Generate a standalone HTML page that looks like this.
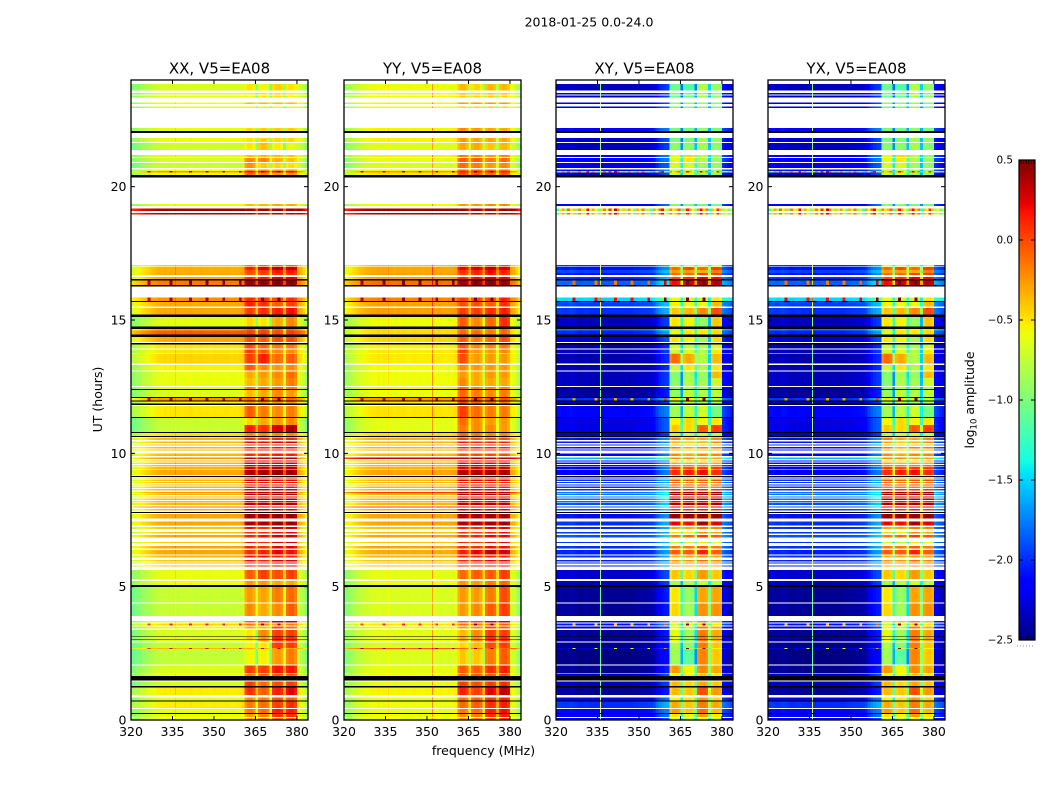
<!DOCTYPE html>
<html>
<head>
<meta charset="utf-8">
<title>2018-01-25 0.0-24.0</title>
<style>
html,body{margin:0;padding:0;background:#fff;}
svg{display:block;}
text{font-family:"DejaVu Sans","Liberation Sans",sans-serif;fill:#000;}
</style>
</head>
<body>
<svg id="fig" xmlns="http://www.w3.org/2000/svg" width="1050" height="800" viewBox="0 0 1050 800">
<rect x="0" y="0" width="1050" height="800" fill="#fff"/>
<text x="589" y="26.5" font-size="12.5" text-anchor="middle">2018-01-25 0.0-24.0</text>
<text x="483.5" y="755" font-size="12.5" text-anchor="middle">frequency (MHz)</text>
<text transform="translate(102,399.5) rotate(-90)" font-size="12.5" text-anchor="middle">UT (hours)</text>
<text transform="translate(974,400) rotate(-90)" font-size="12.5" text-anchor="middle">log<tspan font-size="8.5" dy="2.5">10</tspan><tspan dy="-2.5"> amplitude</tspan></text>
<g id="panels"></g>
<g id="cbar"></g>
</svg>
<script>
// Time rows with data (UT hours): top and bottom edge of every row.
const rowTop = [
23.85,23.52,23.41,23.15,23.0,22.2,
21.83,21.63,21.19,21.08,20.89,20.65,20.59,20.54,
19.35,19.19,19.01,
17.06,16.99,16.88,16.76,16.62,16.49,
15.85,15.68,15.45,15.12,14.67,14.6,14.37,14.09,13.9,13.74,13.32,13.06,12.83,12.49,12.38,12.08,11.95,11.78,11.33,11.06,10.76,
10.6,10.44,10.34,10.24,10.15,9.99,9.84,9.74,9.65,9.56,9.48,9.4,
9.1,9.01,8.93,8.84,8.75,8.66,8.55,8.48,8.39,8.3,8.21,8.13,8.0,7.91,
7.73,7.44,7.23,7.05,6.93,6.68,6.53,6.38,6.16,6.0,5.91,5.8,
5.63,5.22,4.99,4.36,3.71,3.62,3.5,3.38,3.11,3.01,2.9,2.7,2.66,2.05,1.74,1.45,1.21,0.84,0.69,0.41,0.23,0.08];
const rowBottom = [
23.6,23.45,23.34,23.1,22.95,22.09,
21.68,21.38,21.11,20.93,20.7,20.59,20.54,20.43,
19.28,19.09,18.95,
17.01,16.88,16.76,16.69,16.53,16.31,
15.72,15.5,15.2,14.75,14.6,14.45,14.18,13.94,13.77,13.36,13.1,12.83,12.53,12.41,12.11,11.99,11.86,11.36,11.06,10.8,10.65,
10.5,10.38,10.29,10.19,10.1,9.9,9.79,9.69,9.6,9.51,9.42,9.19,
9.05,8.96,8.88,8.79,8.7,8.61,8.5,8.43,8.34,8.25,8.16,8.07,7.96,7.86,
7.55,7.3,7.17,7.0,6.84,6.63,6.44,6.2,6.09,5.95,5.86,5.75,
5.29,5.06,4.4,3.9,3.66,3.54,3.44,3.14,3.04,2.95,2.7,2.66,2.09,1.77,1.65,1.28,0.94,0.74,0.45,0.26,0.11,0];

// Fully flagged (black) time ranges in UT hours.
const flagTop = [22.09,20.43,16.53,16.31,15.72,15.2,14.75,14.45,14.13,12.41,12.11,11.99,11.86,11.36,10.8,10.65,9.15,7.8,5.06,3.14,3.04,1.65,1.28,0.74,0.26];
const flagBottom = [22.02,20.35,16.49,16.25,15.68,15.12,14.67,14.37,14.09,12.38,12.08,11.95,11.82,11.33,10.76,10.61,9.12,7.76,4.99,3.11,3.01,1.49,1.21,0.69,0.23];

// Row levels in hundredths of log10 amplitude: [out of band, sub-band 1..4].
const levelsXX = [
[-66,-48,-56,-42,-48],[-62,-55,-50,-48,-52],[-62,-58,-50,-48,-55],[-58,-35,-35,-35,-35],[-62,-55,-52,-55,-55],[-60,-45,-42,-42,-42],
[-58,-48,-42,-45,-45],[-70,-50,-38,-52,-60],[-60,-38,-35,-38,-40],[-66,-18,-18,-32,-38],[-70,-22,-42,-45,-48],[-60,-20,-20,-25,-25],[-25,20,20,20,20],[-56,-8,-20,-25,-22],
[-62,-35,-35,-30,-30],[42,42,42,42,42],[38,38,38,38,38],
[-42,-15,-10,-5,-5],[-32,15,28,36,36],[-32,2,8,18,18],[-30,-2,5,12,12],[-30,10,18,28,28],[-15,45,45,48,48],
[-22,12,10,5,10],[-30,15,10,-5,5],[-30,5,10,15,20],[-62,-45,-50,-30,-20],[-30,-10,-10,-10,-10],[-5,5,5,0,5],[-30,0,-5,0,0],[-50,0,-10,-15,-15],[-50,5,-5,-20,-20],[-45,5,15,-10,-5],[-55,-5,-20,-25,-20],[-60,-30,-25,-20,-10],[-60,-35,-30,-25,-15],[-60,-15,-15,-15,-15],[-65,-35,-30,-20,-25],[-25,-5,-5,-5,-5],[-60,-30,-25,-25,-25],[-50,-5,-15,-20,-15],[-72,-45,-30,-25,-20],[-72,15,10,30,40],[-50,-20,-20,-20,-20],
[-35,10,10,12,12],[-35,25,25,30,30],[-35,15,15,20,20],[-35,15,15,20,20],[-35,20,20,20,20],[-35,10,10,15,15],[-25,40,40,42,42],[-35,35,35,35,35],[-35,30,30,30,30],[-35,35,35,38,38],[-35,30,30,35,35],[-30,40,42,45,42],
[-35,15,15,15,15],[-35,30,30,25,25],[-35,20,20,20,20],[-35,30,30,30,30],[-35,20,20,20,20],[-35,30,30,30,30],[-25,45,45,45,45],[-35,40,40,40,40],[-35,35,35,35,35],[-35,40,40,40,40],[-35,25,25,30,30],[-35,40,40,40,40],[-10,35,35,35,35],[-35,30,30,25,25],
[-30,45,45,45,45],[-30,42,42,44,44],[-40,20,10,30,30],[-40,10,10,20,25],[-30,15,20,30,30],[-40,20,15,30,30],[-30,15,10,25,25],[-30,10,15,25,20],[-35,20,20,15,15],[-40,20,15,30,30],[-40,15,10,25,25],[-40,20,20,25,25],
[-60,-5,5,0,5],[-58,-25,-25,-30,-30],[-72,-25,-28,-15,-10],[-72,-20,-30,-20,-5],[-55,-5,0,35,35],[-45,-10,-15,-25,-15],[-60,-30,-35,0,-10],[-66,-50,-20,5,5],[-60,-40,-25,15,10],[-66,-50,-20,10,10],[-72,-55,-50,5,5],[-35,-30,-30,-20,-30],[-74,-55,-52,-25,-15],[-66,5,5,18,18],[-60,-15,-10,-5,-5],[-68,5,-10,0,5],[-52,10,-5,15,25],[-62,-20,-15,0,-5],[-52,-15,-10,5,10],[-60,-15,-10,15,15],[-60,-25,-15,10,10],[-60,-30,-20,-10,-5]];

const levelsYY = [
[-60,-35,-45,-35,-35],[-58,-40,-45,-42,-42],[-58,-42,-45,-42,-45],[-55,-25,-25,-25,-25],[-58,-45,-45,-45,-45],[-55,-20,-25,-30,-30],
[-55,-25,-30,-30,-30],[-65,-30,-30,-40,-35],[-55,-15,-20,-25,-20],[-62,-5,-5,-15,-10],[-65,-10,-15,-25,-20],[-55,-5,-5,-10,-10],[-25,15,15,15,15],[-52,0,-5,-10,-5],
[-58,-25,-25,-20,-20],[42,42,42,42,42],[38,38,38,38,38],
[-40,-10,-5,0,0],[-30,25,30,36,30],[-30,10,15,22,15],[-28,5,10,18,12],[-28,15,20,30,25],[-12,42,45,48,45],
[-18,5,5,5,15],[-28,0,0,-5,10],[-28,5,5,10,15],[-58,-5,-20,-10,10],[-45,-15,-20,-20,-10],[-48,-10,-10,-15,-10],[-45,-5,-15,-10,0],[-55,-5,-20,-20,-15],[-52,5,-25,-25,-20],[-52,0,-25,-25,-25],[-58,-20,-25,-25,-25],[-58,-25,-30,-25,-25],[-58,-20,-30,-30,-30],[-55,-10,-20,-20,-20],[-60,-10,-15,-20,-15],[-25,5,5,0,0],[-55,0,-10,-15,-15],[-50,5,-10,-15,-15],[-62,-10,-20,-25,-25],[-62,-15,-20,-20,-25],[-48,-10,-15,-20,-20],
[-35,5,0,0,0],[-35,20,15,15,15],[-35,15,15,15,15],[-35,15,15,15,15],[-35,15,15,15,15],[-35,0,0,0,0],[30,40,40,40,40],[-35,30,30,30,30],[-35,25,25,25,25],[-35,32,32,32,32],[-35,28,28,28,28],[-30,38,40,42,40],
[-35,10,10,10,10],[-35,28,28,25,25],[-35,15,15,15,15],[-35,28,28,28,28],[-35,15,15,15,15],[-35,28,28,28,28],[5,45,45,45,45],[-35,38,38,38,38],[-35,32,32,32,32],[-35,38,38,38,38],[-35,22,22,25,25],[-35,38,38,38,38],[5,35,35,35,35],[-35,25,25,25,25],
[-30,40,42,42,42],[-30,40,40,42,42],[-40,15,10,25,25],[-40,10,5,15,20],[-30,10,15,25,25],[-40,15,10,25,25],[-30,10,10,20,20],[-32,15,25,35,30],[-35,15,15,15,15],[-40,15,15,25,25],[-40,10,10,20,20],[-40,15,15,20,20],
[-62,-10,-5,-5,5],[-60,-25,-25,-15,-10],[-66,-25,-25,-15,0],[-66,-25,-20,-5,5],[-55,0,5,30,30],[-50,-10,-10,-10,-5],[-60,-25,-20,0,-5],[-62,-35,-20,5,5],[-60,-30,-20,10,10],[-62,-30,-15,10,10],[-66,-45,-35,0,5],[-8,-8,-8,-8,-8],[-66,-40,-40,-15,-5],[-62,-5,-5,10,15],[-58,-10,-5,-5,0],[-62,5,0,5,10],[-55,15,5,25,35],[-60,-10,-5,10,15],[-58,-10,-5,10,15],[-60,-15,-10,15,20],[-60,-20,-15,10,15],[-60,-25,-20,-5,5]];

const levelsXY = [
[-225,-105,-115,-80,-90],[-225,-105,-105,-85,-90],[-225,-105,-105,-85,-90],[-220,-95,-95,-90,-95],[-215,-100,-100,-95,-100],[-205,-100,-100,-90,-100],
[-220,-100,-100,-85,-90],[-225,-95,-95,-85,-95],[-205,-60,-45,-75,-85],[-205,-62,-50,-80,-88],[-215,-65,-65,-85,-90],[-200,-75,-70,-85,-90],[-150,-50,-50,-60,-60],[-220,-72,-68,-90,-92],
[-210,-95,-95,-100,-100],[-60,-30,-30,-30,-30],[-80,-60,-60,-60,-60],
[-190,-60,-60,-60,-60],[-200,-10,0,-10,5],[-185,-25,-25,-30,-15],[-200,-10,-10,5,5],[-190,0,10,25,20],[-175,20,30,40,35],
[-140,-60,-70,-70,-50],[-185,-55,-60,-60,-35],[-190,-40,-35,-20,0],[-225,-50,-55,-90,-40],[-165,-70,-60,-55,-50],[-195,-60,-50,-50,-45],[-220,-50,-55,-85,-45],[-230,-70,-75,-85,-65],[-225,-70,-60,-80,-50],[-230,-10,-30,-80,-35],[-230,-70,-50,-80,-50],[-225,-95,-85,-90,-35],[-225,-95,-80,-85,-70],[-230,-90,-80,-85,-80],[-235,-90,-75,-80,-75],[-190,-50,-50,-70,-75],[-225,-90,-75,-90,-80],[-205,-85,-75,-70,-100],[-215,-55,-45,-55,-50],[-215,-40,-45,-5,5],[-225,-75,-70,-70,-75],
[-200,-15,-30,-30,-20],[-200,-30,-40,-30,-20],[-190,-35,-45,-40,-35],[-200,-15,-30,-15,-15],[-200,-35,-45,-40,-35],[-205,-20,-30,-20,-20],[-150,-20,-20,-30,-30],[-210,-45,-50,-45,-35],[-200,-30,-35,-30,-30],[-205,-15,-15,-15,-10],[-205,5,0,5,5],[-205,10,15,20,10],
[-190,-25,-30,-25,-30],[-190,0,-5,0,0],[-190,-10,-15,-10,-15],[-190,5,0,5,0],[-190,-15,-15,-15,-15],[-190,10,10,10,10],[-170,45,45,45,45],[-170,42,42,42,42],[-170,35,35,35,35],[-170,42,42,42,42],[-175,20,20,25,20],[-180,42,42,42,42],[-180,30,30,30,30],[-185,10,10,15,10],
[-200,45,45,45,45],[-190,25,20,42,25],[-190,-30,-30,-15,-20],[-190,-45,-50,-20,-30],[-180,-15,-10,5,-5],[-190,-70,-70,-50,-60],[-190,-15,-15,-5,-15],[-195,-5,-5,15,-5],[-190,-35,-30,-25,-30],[-195,-25,-25,-10,-20],[-195,-20,-25,-15,-20],[-195,-35,-35,-25,-30],
[-220,-40,-45,-25,-40],[-225,-85,-80,-70,-75],[-235,-50,-90,-28,-28],[-235,-45,-85,-22,-22],[-215,-50,-40,-20,-35],[-200,-70,-65,-40,-50],[-220,-60,-80,-15,-30],[-235,-60,-85,-15,-30],[-235,-60,-85,-15,-30],[-235,-60,-85,-12,-30],[-240,-80,-95,-15,-40],[-220,-85,-75,-35,-55],[-240,-85,-110,-18,-40],[-235,-25,-55,-20,-30],[-220,-55,-55,-40,-50],[-225,-35,-45,-30,-40],[-235,-35,-40,0,-25],[-210,-55,-50,-25,-45],[-190,-30,-40,-15,-30],[-205,-25,-40,-10,-35],[-210,-50,-60,-25,-50],[-220,-65,-70,-55,-65]];

// The YX panel reads the same as XY in the picture.
const levelsYX = levelsXY.map(function (r) { return r.slice(); });

// Channel shapes (64 one-MHz channels, hundredths of log10 amplitude offset).
const shapeXX = [-34,-30,-26,-22,-18,-15,-12,-8,-6,-3,-2,-2,0,-2,0,0,0,0,-1,1,0,2,0,-1,0,1,0,0,-1,0,1,0,0,0,1,0,-1,0,0,1,3,-8,0,0,-8,-45,-6,0,0,-8,-50,-6,0,0,-6,-45,-6,0,0,-8,0,-4,-14,-28];
const shapeYY = [-30,-26,-22,-18,-14,-10,-8,-5,-3,-1,0,0,2,0,2,0,0,0,-1,1,0,1,0,-1,0,1,0,0,-1,0,1,0,0,0,1,0,-1,0,0,1,3,-8,0,0,-8,-40,-6,0,0,-8,-42,-6,0,0,-6,-40,-6,0,0,-8,0,-4,-14,-26];
const shapeXY = [-5,-5,-7,-8,-6,-4,-6,-8,-10,-10,-8,-8,-10,-10,-10,-10,-10,-10,-10,-10,-10,-10,-10,-10,-10,-10,-10,-10,-8,-8,-7,-6,-6,-5,-4,0,12,20,25,28,30,-10,0,0,-5,-75,-5,0,0,-5,-60,-5,0,0,-5,-70,-5,0,0,-5,15,8,4,0];
const shapeYX = [-5,-5,-7,-8,-6,-4,-6,-8,-10,-10,-8,-8,-10,-10,-10,-10,-10,-10,-10,-10,-10,-10,-10,-10,-10,-10,-10,-10,-8,-8,-7,-6,-6,-5,-4,0,12,20,25,28,30,-10,0,0,-5,-75,-5,0,0,-5,-60,-5,0,0,-5,-70,-5,0,0,-5,15,8,4,0];

// Narrow interference lines: frequency (MHz) and amplitude offset for each panel.
const rfiFreqXX = [335.9];
const rfiBoostXX = [14];
const rfiFreqYY = [335.9,351.8];
const rfiBoostYY = [8,35];
const rfiFreqXY = [335.9];
const rfiBoostXY = [140];
const rfiFreqYX = [335.9];
const rfiBoostYX = [140];

// Which level each channel uses: 0 out of band, 1..4 sub-bands.
const channelGroup = [0,0,0,0,0,0,0,0,0,0,0,0,0,0,0,0,0,0,0,0,0,0,0,0,0,0,0,0,0,0,0,0,0,0,0,0,0,0,0,0,0,1,1,1,1,1,2,2,2,2,2,3,3,3,3,3,4,4,4,4,0,0,0,0];

// Noisy cross-hand rows near 19 UT read as a single spiky spectrum.
const noisyRows = [12,15,16];
const noisySpectrum = [-120,-60,-30,-90,-10,-70,-40,-110,-20,-80,-50,20,-90,-30,-60,-100,-45,-15,-70,10,-60,30,-20,-80,-40,-90,-25,-65,-110,-35,-75,-15,-95,-50,-120,-30,-70,-10,20,-60,-85,-20,-50,-35,-10,-120,-40,15,-30,-60,-100,-25,20,-45,-15,-130,-35,-55,10,-40,-90,-60,-110,-80];

// Rows with sparse hot channels (isolated spots).
const spotRows = [12,22,23,38,87,93];
const spotChannels = [6,14,21,27,33,39,47,53];
const spotBoostParallel = 60;
const spotBoostCross = 170;

// Axis values and tick labels.
const freqMin = 320;
const freqMax = 384;
const hourMin = 0;
const hourMax = 24;
const xTicks = [320,335,350,365,380];
const yTicks = [0,5,10,15,20];
const cbarTicks = [0.5,0,-0.5,-1,-1.5,-2,-2.5];
const cbarLabels = ['0.5','0.0','\u22120.5','\u22121.0','\u22121.5','\u22122.0','\u22122.5'];
const panelTitles = ['XX, V5=EA08','YY, V5=EA08','XY, V5=EA08','YX, V5=EA08'];
const panelKeys = ['xx','yy','xy','yx'];

const SVGNS = 'http://www.w3.org/2000/svg';
const plotTop = 80, plotBottom = 720, plotWidth = 177;
const panelLefts = [131,344,556,768];
const panelLevels = [levelsXX,levelsYY,levelsXY,levelsYX];
const panelShapes = [shapeXX,shapeYY,shapeXY,shapeYX];
const panelRfiFreq = [rfiFreqXX,rfiFreqYY,rfiFreqXY,rfiFreqYX];
const panelRfiBoost = [rfiBoostXX,rfiBoostYY,rfiBoostXY,rfiBoostYX];
const cbarMin = -2.5, cbarMax = 0.5;
const cbarLeft = 1019, cbarRight = 1035, cbarTop = 160, cbarBottom = 640;

function yScale(h) { return plotBottom - (h - hourMin) / (hourMax - hourMin) * (plotBottom - plotTop); }
function xScale(f, left) { return left + (f - freqMin) / (freqMax - freqMin) * plotWidth; }
function cbarY(v) { return cbarBottom - (v - cbarMin) / (cbarMax - cbarMin) * (cbarBottom - cbarTop); }

function interp(t, pts) {
  for (let i = 1; i < pts.length; i++) {
    if (t <= pts[i][0]) {
      const a = pts[i - 1], b = pts[i];
      return a[1] + (b[1] - a[1]) * (t - a[0]) / (b[0] - a[0]);
    }
  }
  return pts[pts.length - 1][1];
}
const jetR = [[0,0],[0.35,0],[0.66,1],[0.89,1],[1,0.5]];
const jetG = [[0,0],[0.125,0],[0.375,1],[0.64,1],[0.91,0],[1,0]];
const jetB = [[0,0.5],[0.11,1],[0.34,1],[0.65,0],[1,0]];
function jet(v) {
  const t = Math.max(0, Math.min(1, (v - cbarMin) / (cbarMax - cbarMin)));
  return 'rgb(' + Math.round(255 * interp(t, jetR)) + ',' + Math.round(255 * interp(t, jetG)) + ',' + Math.round(255 * interp(t, jetB)) + ')';
}

function rect(parent, x, y, w, h, fill) {
  const el = document.createElementNS(SVGNS, 'rect');
  el.setAttribute('x', x);
  el.setAttribute('y', y);
  el.setAttribute('width', w);
  el.setAttribute('height', h);
  el.setAttribute('fill', fill);
  parent.appendChild(el);
  return el;
}
function line(parent, x1, y1, x2, y2, width) {
  const el = document.createElementNS(SVGNS, 'line');
  el.setAttribute('x1', x1);
  el.setAttribute('y1', y1);
  el.setAttribute('x2', x2);
  el.setAttribute('y2', y2);
  el.setAttribute('stroke', '#000');
  el.setAttribute('stroke-width', width);
  parent.appendChild(el);
  return el;
}
function label(parent, x, y, str, size, anchor) {
  const el = document.createElementNS(SVGNS, 'text');
  el.setAttribute('x', x);
  el.setAttribute('y', y);
  el.setAttribute('font-size', size);
  el.setAttribute('text-anchor', anchor);
  el.textContent = str;
  parent.appendChild(el);
  return el;
}

function drawPanel(p) {
  const root = document.getElementById('panels');
  const left = panelLefts[p];
  const levels = panelLevels[p];
  const shape = panelShapes[p];
  const rfiFreq = panelRfiFreq[p];
  const rfiBoost = panelRfiBoost[p];
  const cross = p >= 2;
  const spotBoost = cross ? spotBoostCross : spotBoostParallel;
  const g = document.createElementNS(SVGNS, 'g');
  
  
  root.appendChild(g);

  const cells = document.createElementNS(SVGNS, 'g');
  cells.setAttribute('shape-rendering', 'crispEdges');
  
  
  g.appendChild(cells);

  for (let r = 0; r < rowTop.length; r++) {
    const y0 = yScale(rowTop[r]);
    const y1 = yScale(rowBottom[r]);
    const isNoisy = cross && noisyRows.indexOf(r) >= 0;
    const hasSpots = spotRows.indexOf(r) >= 0;
    for (let c = 0; c < channelGroup.length; c++) {
      let v;
      if (isNoisy) {
        v = noisySpectrum[c] / 100;
      } else {
        v = (levels[r][channelGroup[c]] + shape[c]) / 100;
        if (hasSpots && spotChannels.indexOf(c) >= 0) {
          v += spotBoost / 100;
        }
      }
      const x0 = xScale(freqMin + c, left);
      const x1 = xScale(freqMin + c + 1, left);
      const cell = rect(cells, x0, y0, x1 - x0 + 0.3, y1 - y0, jet(v));
      
      
    }
    if (!isNoisy) {
      for (let k = 0; k < rfiFreq.length; k++) {
        const c = Math.floor(rfiFreq[k] - freqMin);
        const v = (levels[r][channelGroup[c]] + shape[c] + rfiBoost[k]) / 100;
        const rfi = rect(cells, Math.round(xScale(rfiFreq[k], left)), y0, 1, y1 - y0, jet(v));
        
        
      }
    }
  }

  for (let i = 0; i < flagTop.length; i++) {
    const y0 = yScale(flagTop[i]);
    const y1 = yScale(flagBottom[i]);
    const flag = rect(cells, left, y0, plotWidth, y1 - y0, '#000');
    
    
  }

  const frame = rect(g, left, plotTop, plotWidth, plotBottom - plotTop, 'none');
  frame.setAttribute('stroke', '#000');
  frame.setAttribute('stroke-width', '1.3');
  
  

  xTicks.forEach(function (f) {
    const x = xScale(f, left);
    const t1 = line(g, x, plotBottom, x, plotBottom - 4, 1);
    
    
    const t2 = line(g, x, plotTop, x, plotTop + 4, 1);
    
    
    const lab = label(g, x, 736, String(f), 12.5, 'middle');
    
    
  });
  yTicks.forEach(function (h) {
    const y = yScale(h);
    const t1 = line(g, left, y, left + 4, y, 1);
    
    
    const t2 = line(g, left + plotWidth, y, left + plotWidth - 4, y, 1);
    
    
    const lab = label(g, left - 4.5, y + 4.5, String(h), 12.5, 'end');
    
    
  });
  const title = label(g, left + plotWidth / 2, 73.5, panelTitles[p], 15, 'middle');
  
  
}

function drawColorbar() {
  const g = document.getElementById('cbar');
  const strip = document.createElementNS(SVGNS, 'g');
  strip.setAttribute('shape-rendering', 'crispEdges');
  
  
  g.appendChild(strip);
  const steps = 240;
  for (let i = 0; i < steps; i++) {
    const v = cbarMin + (i + 0.5) / steps * (cbarMax - cbarMin);
    const y1 = cbarY(cbarMin + i / steps * (cbarMax - cbarMin));
    const y0 = cbarY(cbarMin + (i + 1) / steps * (cbarMax - cbarMin));
    const s = rect(strip, cbarLeft, y0, cbarRight - cbarLeft, y1 - y0 + 0.3, jet(v));
    
    
  }
  const frame = rect(g, cbarLeft, cbarTop, cbarRight - cbarLeft, cbarBottom - cbarTop, 'none');
  frame.setAttribute('stroke', '#000');
  frame.setAttribute('stroke-width', '1.2');
  
  
  cbarTicks.forEach(function (v, i) {
    const y = cbarY(v);
    const t1 = line(g, cbarLeft, y, cbarLeft + 4, y, 1);
    
    
    const t2 = line(g, cbarRight, y, cbarRight - 4, y, 1);
    
    
    const lab = label(g, cbarLeft - 6, y + 3.7, cbarLabels[i], 10.4, 'end');
    
    
  });
  for (let i = 0; i < 6; i++) {
    const x = cbarLeft + 2 + i * 2.6;
    const a = line(g, x, cbarTop, x, cbarTop + 4, 0.7);
    
    
    const b = line(g, x, cbarBottom, x, cbarBottom - 4, 0.7);
    
    
  }
  const dots = line(g, 1017, 646, 1034, 646, 1);
  dots.setAttribute('stroke', '#888');
  dots.setAttribute('stroke-dasharray', '1 2');
  
  
}

for (let p = 0; p < panelTitles.length; p++) {
  drawPanel(p);
}
drawColorbar();
</script>
</body>
</html>
